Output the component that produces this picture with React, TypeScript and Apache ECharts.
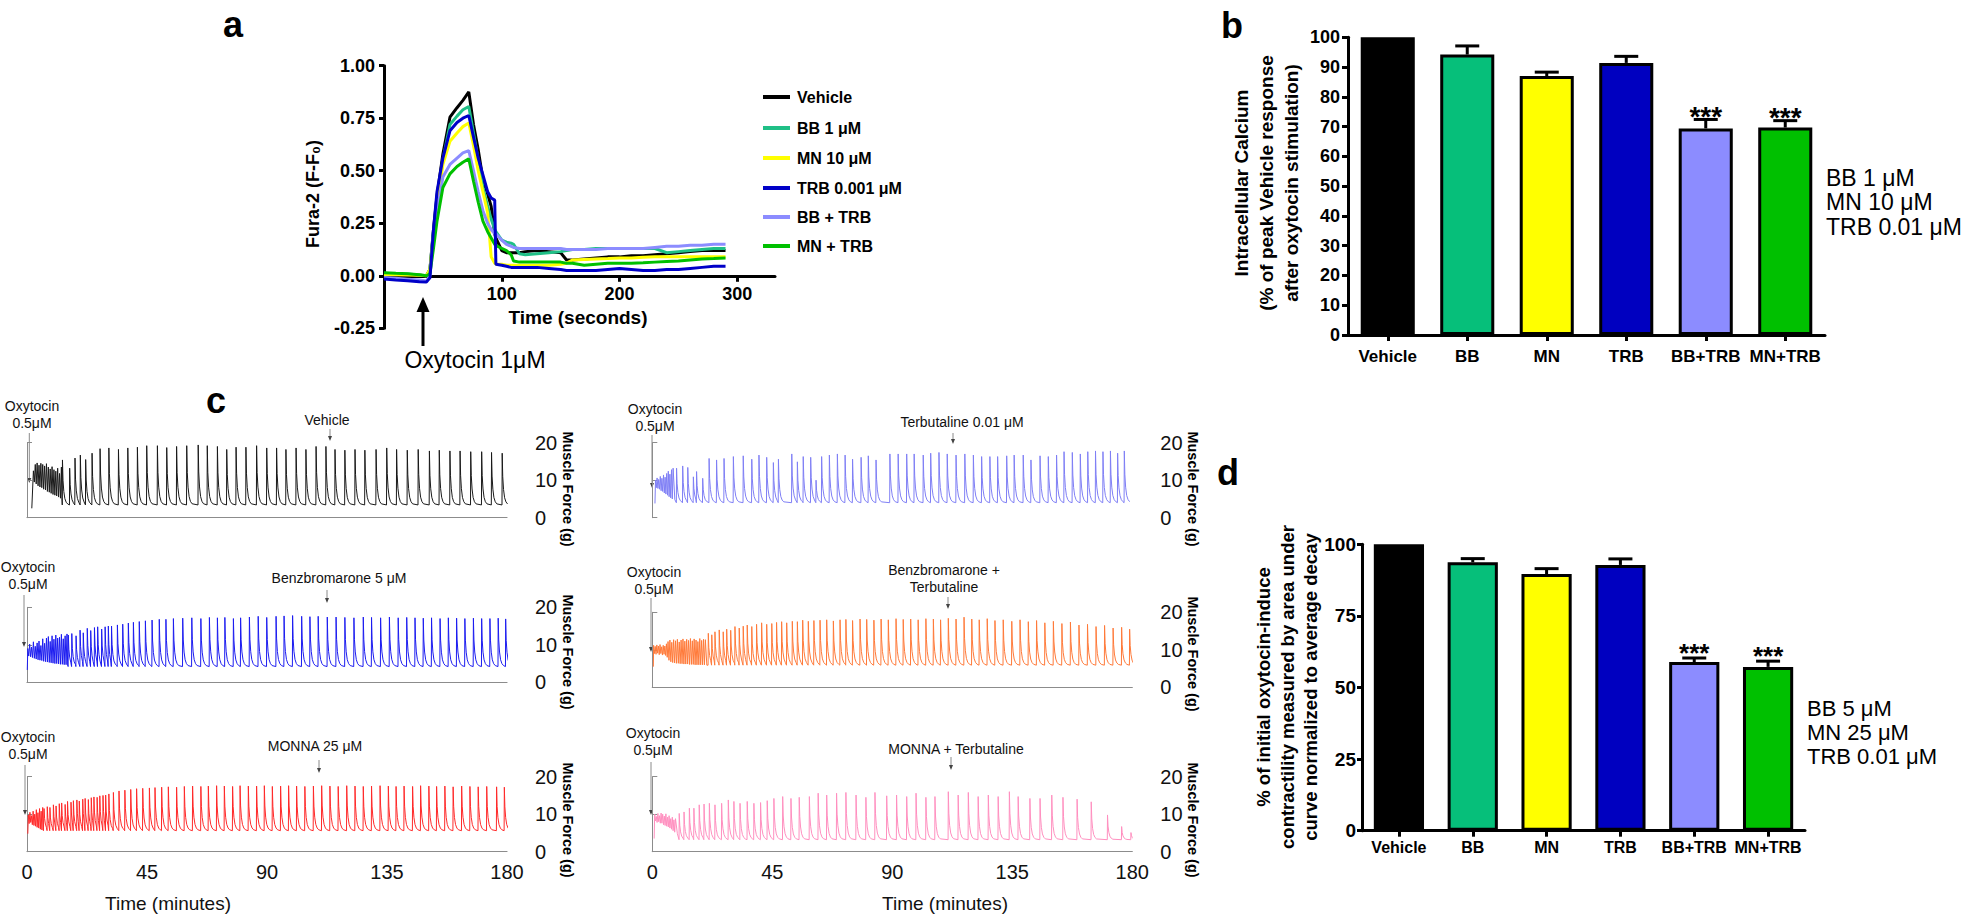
import React, { useEffect, useRef } from "react";
import * as echarts from "echarts";

const FONT = "'Liberation Sans', Arial, Helvetica, sans-serif";

// ---------------- Panel a : Fura-2 traces ----------------
const timeSec = [0, 10, 20, 30, 36, 39, 42, 45, 50, 56, 62, 67, 72, 76, 80, 84, 88, 91, 94, 95, 100, 104, 108, 110, 115, 120, 130, 140, 150, 155, 160, 170, 180, 190, 200, 210, 220, 230, 240, 250, 260, 270, 280, 290];
const furaVehicle = [0.008, 0.006, 0.004, 0.002, 0, 0.03, 0.22, 0.38, 0.58, 0.755, 0.8, 0.835, 0.875, 0.72, 0.6, 0.46, 0.39, 0.33, 0.2, 0.18, 0.12, 0.11, 0.11, 0.11, 0.11, 0.115, 0.12, 0.115, 0.11, 0.075, 0.075, 0.08, 0.085, 0.09, 0.09, 0.095, 0.095, 0.1, 0.105, 0.11, 0.115, 0.12, 0.12, 0.12];
const furaBB = [0.012, 0.01, 0.008, 0.004, 0, 0.03, 0.21, 0.36, 0.55, 0.72, 0.76, 0.79, 0.806, 0.68, 0.55, 0.42, 0.33, 0.27, 0.22, 0.21, 0.17, 0.16, 0.155, 0.15, 0.105, 0.1, 0.105, 0.11, 0.115, 0.12, 0.125, 0.125, 0.13, 0.13, 0.13, 0.13, 0.13, 0.13, 0.11, 0.115, 0.12, 0.125, 0.13, 0.13];
const furaMN = [0.006, 0.005, 0.004, 0.003, 0, 0.03, 0.19, 0.33, 0.53, 0.64, 0.68, 0.71, 0.727, 0.62, 0.5, 0.4, 0.3, 0.09, 0.06, 0.055, 0.055, 0.05, 0.05, 0.05, 0.05, 0.05, 0.05, 0.05, 0.055, 0.06, 0.075, 0.078, 0.08, 0.082, 0.085, 0.085, 0.088, 0.09, 0.09, 0.09, 0.09, 0.09, 0.09, 0.09];
const furaTRB = [-0.015, -0.02, -0.024, -0.028, -0.03, -0.01, 0.22, 0.4, 0.56, 0.69, 0.73, 0.75, 0.763, 0.66, 0.56, 0.48, 0.4, 0.37, 0.36, 0.055, 0.05, 0.045, 0.04, 0.04, 0.04, 0.04, 0.04, 0.035, 0.03, 0.025, 0.025, 0.025, 0.025, 0.03, 0.035, 0.03, 0.025, 0.025, 0.03, 0.03, 0.035, 0.04, 0.045, 0.045];
const furaBBTRB = [-0.008, -0.012, -0.016, -0.02, -0.025, 0, 0.17, 0.3, 0.47, 0.53, 0.56, 0.585, 0.596, 0.5, 0.4, 0.31, 0.25, 0.22, 0.2, 0.2, 0.17, 0.15, 0.14, 0.135, 0.13, 0.13, 0.13, 0.13, 0.13, 0.125, 0.125, 0.125, 0.125, 0.13, 0.13, 0.13, 0.13, 0.135, 0.14, 0.14, 0.145, 0.145, 0.15, 0.15];
const furaMNTRB = [0.015, 0.012, 0.01, 0.005, 0, 0.01, 0.13, 0.26, 0.42, 0.485, 0.52, 0.54, 0.557, 0.45, 0.35, 0.26, 0.21, 0.18, 0.15, 0.145, 0.13, 0.12, 0.1, 0.07, 0.065, 0.065, 0.065, 0.065, 0.065, 0.06, 0.06, 0.05, 0.055, 0.06, 0.06, 0.06, 0.062, 0.065, 0.068, 0.07, 0.075, 0.08, 0.082, 0.085];
const legendA = ["Vehicle", "BB 1 μM", "MN 10 μM", "TRB 0.001 μM", "BB + TRB", "MN + TRB"];
const colorsA = ["#000000", "#1fbf86", "#ffff00", "#0000c8", "#8c8cff", "#00c000"];
const secTicks = [100, 200, 300];

// ---------------- Panels b / d : bars ----------------
const groups = ["Vehicle", "BB", "MN", "TRB", "BB+TRB", "MN+TRB"];
const barColors = ["#000000", "#06bf7a", "#ffff00", "#0000c0", "#8c8cff", "#00c000"];
const calciumMean = [100, 94.2, 87.0, 91.4, 69.4, 69.7];
const calciumErrTop = [100, 97.1, 88.3, 93.6, 72.4, 72.0];
const aucMean = [100, 93.7, 89.6, 92.8, 58.9, 57.2];
const aucErrTop = [100, 95.0, 91.5, 94.9, 60.3, 59.2];
const significance = ["", "", "", "", "***", "***"];

// ---------------- Panel c : muscle force traces ----------------
const timeTicks = [0, 45, 90, 135, 180];
// Vehicle
const vehStart = [1.8, 2.5];
const vehBurstT = [2.4, 3.1, 3.8, 4.5, 5.2, 5.9, 6.6, 7.3, 8.0, 8.7, 9.4, 10.1, 10.8, 11.5, 12.2, 12.9];
const vehBurstPeak = [12.5, 14.2, 14.6, 14.0, 14.5, 14.2, 13.8, 14.4, 13.5, 13.0, 13.6, 12.8, 12.4, 13.2, 11.8, 13.5];
const vehBurstTrough = [9.5, 9.0, 8.5, 8.2, 8.0, 7.6, 7.4, 7.0, 6.8, 6.5, 6.2, 6.0, 5.8, 5.5, 5.2, 5.0];
const vehSpikeT = [13.3, 16.0, 18.0, 20.0, 22.0, 24.4, 27.4, 30.7, 34.3, 37.8, 41.4, 44.9, 48.9, 52.4, 56.1, 59.9, 64.2, 67.6, 71.4, 74.9, 78.4, 82.1, 86.1, 89.9, 93.6, 97.1, 100.9, 104.6, 108.4, 112.1, 115.5, 119.2, 123.0, 126.7, 130.9, 134.9, 138.6, 142.6, 146.7, 150.9, 154.6, 158.6, 162.4, 166.4, 170.5, 174.2, 178.2];
const vehSpikePeak = [15.4, 13.2, 15.9, 16.7, 15.5, 17.2, 18.4, 18.6, 18.2, 18.6, 18.8, 19.2, 19.2, 18.7, 19.0, 19.2, 19.4, 19.2, 19.0, 18.2, 18.8, 18.8, 19.2, 18.6, 18.6, 18.2, 18.6, 18.2, 19.0, 19.0, 18.2, 18.0, 18.2, 18.0, 18.2, 18.6, 18.2, 18.0, 18.2, 17.8, 18.0, 17.8, 17.8, 17.6, 17.6, 17.4, 17.2];
const vehBase = 3.4;
// Benzbromarone 5 μM
const bbStart = [0.1, 3.3];
const bbBurstT = [0.3, 1.0, 1.7, 2.4, 3.1, 3.8, 4.5, 5.2, 5.9, 6.6, 7.3, 8.0, 8.7, 9.4, 10.1, 10.8, 11.5, 12.2, 12.9, 13.6, 14.3, 15.0];
const bbBurstPeak = [9.0, 10.2, 9.4, 10.8, 9.6, 10.5, 11.0, 9.8, 11.6, 10.4, 11.8, 12.2, 10.9, 12.4, 11.5, 12.6, 11.8, 12.0, 12.8, 11.6, 12.4, 12.9];
const bbBurstTrough = [7.0, 6.8, 6.6, 6.4, 6.2, 6.0, 5.9, 5.8, 5.6, 5.5, 5.4, 5.3, 5.2, 5.1, 5.0, 5.0, 4.9, 4.8, 4.8, 4.7, 4.7, 4.6];
const bbSpikeT = [15.5, 16.8, 18.4, 19.9, 21.1, 22.6, 23.9, 25.3, 26.5, 28.0, 29.3, 30.5, 31.7, 33.9, 35.9, 38.0, 39.9, 42.1, 44.4, 46.9, 49.6, 52.1, 54.9, 58.4, 61.8, 65.2, 68.4, 71.4, 74.2, 77.4, 80.1, 83.4, 86.7, 89.9, 93.4, 96.4, 99.6, 103.0, 106.1, 109.2, 112.6, 115.9, 119.2, 122.6, 126.1, 129.2, 132.6, 135.9, 139.2, 142.4, 145.5, 148.6, 151.7, 154.9, 158.0, 161.1, 164.2, 167.4, 170.5, 173.6, 176.7, 179.5];
const bbSpikePeak = [12.6, 13.0, 12.4, 13.9, 13.2, 14.4, 13.8, 14.6, 14.8, 14.2, 14.8, 15.0, 15.0, 15.3, 15.5, 15.8, 16.0, 16.2, 16.4, 16.6, 16.8, 16.8, 17.0, 17.1, 17.2, 17.0, 17.3, 17.2, 17.3, 17.0, 17.2, 17.4, 17.6, 17.3, 17.6, 17.7, 17.8, 17.6, 17.5, 17.6, 17.4, 17.4, 17.3, 17.2, 17.4, 17.3, 17.2, 17.4, 17.2, 17.3, 17.2, 17.1, 17.2, 17.0, 17.2, 17.1, 17.0, 17.1, 17.0, 17.0, 17.1, 16.9];
const bbBase = 4.2;
// MONNA 25 μM
const mnStart = [0.3, 4.8];
const mnBurstT = [0.5, 1.1, 1.7, 2.3, 2.9, 3.5, 4.1, 4.7, 5.3, 5.9];
const mnBurstPeak = [9.8, 10.5, 9.6, 10.8, 10.0, 11.2, 10.4, 11.5, 10.8, 11.8];
const mnBurstTrough = [7.5, 7.8, 7.2, 7.0, 6.8, 6.5, 6.3, 6.0, 5.8, 5.6];
const mnSpikeT = [6.4, 7.6, 8.6, 9.9, 10.9, 12.1, 13.0, 14.3, 15.2, 16.5, 17.4, 18.7, 19.6, 20.9, 21.8, 23.0, 24.1, 25.1, 26.3, 27.3, 28.5, 29.5, 30.7, 32.4, 34.5, 36.7, 38.9, 41.1, 43.4, 45.9, 48.0, 50.5, 53.0, 56.1, 59.0, 62.1, 65.2, 68.0, 71.1, 74.0, 77.1, 79.9, 83.0, 86.1, 89.0, 92.0, 95.1, 98.1, 101.1, 104.2, 107.4, 110.5, 113.6, 116.7, 119.9, 123.0, 126.1, 129.2, 132.4, 135.5, 138.4, 141.4, 144.6, 147.6, 150.7, 153.6, 156.7, 159.8, 163.0, 166.1, 169.2, 172.4, 176.1, 179.0];
const mnSpikePeak = [11.5, 12.0, 11.8, 12.5, 12.2, 12.8, 13.0, 12.6, 13.4, 13.2, 13.6, 13.8, 13.5, 14.0, 14.2, 13.9, 14.4, 14.6, 14.5, 14.9, 15.0, 15.1, 15.4, 15.8, 16.2, 16.4, 16.6, 16.8, 16.9, 17.0, 17.1, 17.2, 17.3, 17.2, 17.4, 17.5, 17.4, 17.5, 17.6, 17.5, 17.4, 17.6, 17.5, 17.5, 17.6, 17.4, 17.5, 17.6, 17.5, 17.4, 17.5, 17.6, 17.5, 17.4, 17.6, 17.5, 17.4, 17.5, 17.6, 17.5, 17.4, 17.5, 17.4, 17.6, 17.5, 17.4, 17.5, 17.3, 17.5, 17.4, 17.3, 17.4, 17.3, 17.2];
const mnBase = 5.6;
// Terbutaline 0.01 μM
const trStart = [1.0, 3.8];
const trBurstT = [1.2, 1.8, 2.4, 3.0, 3.6, 4.2, 4.8, 5.4, 6.0, 6.6, 7.2, 7.8];
const trBurstPeak = [10.0, 10.6, 10.2, 11.0, 10.5, 11.4, 10.8, 11.8, 12.4, 11.6, 12.8, 13.2];
const trBurstTrough = [8.0, 7.8, 7.6, 7.2, 7.0, 6.6, 6.3, 6.0, 5.6, 5.3, 5.0, 4.8];
const trSpikeT = [9.1, 11.4, 13.3, 15.4, 16.6, 18.9, 21.3, 24.1, 26.9, 30.4, 34.1, 37.3, 40.0, 42.9, 45.4, 47.3, 52.3, 54.4, 56.6, 59.4, 61.4, 63.5, 66.4, 69.4, 72.3, 75.1, 78.3, 81.0, 83.9, 89.1, 92.2, 95.4, 98.2, 101.6, 104.4, 107.5, 110.6, 113.9, 117.2, 120.4, 123.5, 126.6, 129.5, 132.9, 135.7, 139.1, 142.0, 145.4, 148.5, 151.6, 154.4, 157.5, 160.5, 163.3, 166.2, 169.0, 171.8, 174.5, 177.0];
const trSpikePeak = [13.2, 13.8, 13.4, 10.9, 12.3, 10.5, 15.8, 15.4, 15.8, 16.3, 16.5, 15.6, 16.7, 16.1, 14.7, 15.6, 17.0, 14.9, 16.3, 16.1, 10.0, 16.3, 16.7, 17.0, 16.7, 15.6, 16.1, 16.5, 15.4, 17.0, 17.0, 17.0, 17.0, 16.7, 17.2, 17.4, 17.0, 16.7, 17.0, 16.7, 16.3, 16.3, 16.3, 16.5, 16.7, 16.7, 15.4, 16.5, 16.3, 16.7, 17.6, 17.4, 17.0, 17.6, 17.8, 17.6, 17.8, 17.2, 17.8];
const trBase = 4.0;
// Benzbromarone + Terbutaline
const btStart = [0.4, 5.5];
const btBurstT = [0.5, 1.1, 1.7, 2.3, 2.9, 3.5, 4.1, 4.7, 5.3, 5.9, 6.6, 7.3, 8.0, 8.7, 9.4, 10.1, 10.8, 11.5, 12.2, 12.9, 13.6, 14.3, 15.0, 15.7, 16.4, 17.1, 17.8, 18.5, 19.2, 19.9];
const btBurstPeak = [11.2, 10.9, 11.3, 11.0, 11.4, 10.8, 11.2, 11.0, 11.6, 12.2, 12.6, 12.0, 12.7, 12.4, 12.8, 12.1, 12.6, 12.9, 12.3, 12.8, 12.5, 13.0, 12.4, 12.9, 12.6, 12.2, 13.0, 12.5, 12.8, 12.7];
const btBurstTrough = [9.0, 8.8, 9.1, 8.7, 9.0, 8.6, 8.8, 8.5, 8.0, 7.2, 6.8, 6.6, 6.5, 6.4, 6.4, 6.3, 6.3, 6.2, 6.2, 6.2, 6.1, 6.1, 6.1, 6.0, 6.0, 6.0, 6.0, 6.0, 6.0, 5.9];
const btSpikeT = [21.0, 22.3, 23.5, 25.1, 26.6, 27.9, 29.4, 31.0, 32.6, 34.1, 35.6, 37.3, 39.1, 41.0, 42.9, 44.8, 46.6, 48.5, 50.4, 52.5, 54.4, 56.4, 58.5, 60.6, 62.9, 65.4, 67.9, 70.4, 72.6, 75.1, 77.9, 80.4, 83.1, 85.8, 88.5, 91.4, 94.1, 96.9, 99.7, 102.6, 105.4, 108.1, 111.0, 113.9, 116.9, 119.8, 122.6, 125.6, 128.5, 131.6, 134.8, 137.9, 141.0, 144.1, 147.2, 150.4, 153.6, 156.8, 160.0, 163.2, 166.4, 169.6, 172.8, 176.0, 179.0];
const btSpikePeak = [14.4, 14.0, 14.8, 15.3, 14.8, 15.5, 15.2, 16.2, 15.8, 16.3, 16.6, 16.2, 16.8, 17.2, 16.8, 17.0, 17.3, 17.5, 17.2, 17.6, 17.5, 17.9, 17.6, 17.8, 17.9, 18.0, 17.7, 18.0, 18.1, 17.8, 18.2, 18.1, 17.9, 18.2, 18.0, 18.3, 18.1, 18.2, 18.0, 18.3, 18.2, 18.0, 18.4, 18.2, 18.7, 18.2, 18.0, 18.3, 17.8, 18.0, 17.6, 18.0, 17.5, 17.8, 17.2, 17.6, 17.0, 17.4, 16.6, 16.8, 16.2, 16.5, 15.8, 16.0, 15.5];
const btBase = 5.9;
// MONNA + Terbutaline
const mtStart = [0.7, 3.5];
const mtBurstT = [0.9, 1.5, 2.1, 2.7, 3.3, 3.9, 4.5, 5.1, 5.7, 6.3, 6.9, 7.5, 8.1, 8.7];
const mtBurstPeak = [10.0, 9.4, 10.2, 9.6, 10.3, 10.0, 9.5, 10.1, 9.2, 9.6, 8.8, 9.2, 8.5, 8.8];
const mtBurstTrough = [8.2, 7.8, 8.0, 7.6, 7.6, 7.2, 7.0, 6.8, 6.6, 6.3, 6.0, 5.6, 5.2, 4.8];
const mtSpikeT = [10.1, 11.9, 13.9, 15.6, 17.6, 19.4, 21.4, 23.5, 26.0, 28.5, 30.6, 32.9, 35.6, 38.1, 40.6, 43.1, 45.6, 48.9, 52.0, 55.1, 58.9, 62.2, 65.4, 69.1, 72.6, 76.4, 80.1, 83.5, 87.9, 91.6, 95.4, 98.9, 102.6, 106.0, 111.0, 114.7, 118.5, 122.2, 126.0, 129.7, 133.9, 137.2, 141.6, 145.4, 149.8, 154.0, 159.3, 164.6, 170.7, 176.0, 179.5];
const mtSpikePeak = [10.2, 10.6, 11.6, 11.6, 12.5, 12.7, 12.9, 12.5, 12.9, 13.8, 13.4, 12.9, 13.4, 12.9, 13.1, 13.6, 14.2, 14.7, 14.2, 14.5, 14.7, 15.6, 15.1, 15.6, 15.8, 15.1, 14.5, 15.8, 14.9, 15.1, 14.7, 15.6, 14.5, 14.7, 16.0, 15.1, 15.8, 14.7, 15.1, 14.7, 16.0, 14.7, 14.2, 14.2, 15.1, 14.5, 14.0, 13.3, 9.8, 6.7, 5.1];
const mtBase = 3.2;

// spike shape (time after peak in minutes, fraction of amplitude remaining)
const DECAY: number[][] = [[0.2, 0.55], [0.5, 0.3], [0.9, 0.14], [1.4, 0.06], [2.0, 0.02]];

function buildTrace(start: number[], bT: number[], bP: number[], bTr: number[], sT: number[], sP: number[], base: number) {
  const pts: number[][] = [[start[0], start[1]]];
  const nb = Math.min(bT.length, bP.length, bTr.length);
  for (let i = 0; i < nb; i++) {
    pts.push([bT[i], bP[i]]);
    const next = i + 1 < nb ? bT[i + 1] : sT[0];
    pts.push([(bT[i] + next) / 2, bTr[i]]);
  }
  const ns = Math.min(sT.length, sP.length);
  for (let i = 0; i < ns; i++) {
    const t = sT[i], p = sP[i];
    const next = i + 1 < ns ? sT[i + 1] : 1e9;
    pts.push([t - 0.08, base]);
    pts.push([t, p]);
    for (const [dt, f] of DECAY) if (t + dt < next - 0.15) pts.push([t + dt, base + (p - base) * f]);
  }
  return pts;
}

function zip(xs: number[], ys: number[]) {
  return xs.map((x, i) => [x, ys[i]]);
}

const txtStyle = (extra: any) => ({ fill: "#000", fontFamily: FONT, align: "center", verticalAlign: "middle", ...extra });

function text(x: number, y: number, t: string, style: any, rotation = 0) {
  return { type: "text", x, y, rotation, silent: true, style: txtStyle({ text: t, ...style }) };
}

function thinArrow(x: number, y1: number, y2: number) {
  return [
    { type: "line", silent: true, shape: { x1: x, y1, x2: x, y2: y2 - 2 }, style: { stroke: "#8a8a8a", lineWidth: 1 } },
    { type: "polygon", silent: true, shape: { points: [[x - 2, y2 - 5], [x + 2, y2 - 5], [x, y2]] }, style: { fill: "#444" } },
  ];
}

function buildOption() {
  const A_TOP = 65.7, A_H = 262.6, A_MIN = -0.25, A_MAX = 1;
  const zeroOffset = -(A_H * (0 - A_MIN)) / (A_MAX - A_MIN);

  const grids: any[] = [
    { left: 384, top: A_TOP, width: 391, height: A_H },
    { left: 1348, top: 37.3, width: 477, height: 297.7 },
    { left: 1362, top: 544.3, width: 443, height: 286.4 },
    { left: 27, top: 442.7, width: 480, height: 75 },
    { left: 27, top: 607.3, width: 480, height: 75 },
    { left: 27, top: 776.7, width: 480, height: 75 },
    { left: 652.3, top: 442.7, width: 480, height: 75 },
    { left: 652.3, top: 612.3, width: 480, height: 75 },
    { left: 652.3, top: 776.7, width: 480, height: 75 },
  ].map((g) => ({ ...g, outerBoundsMode: "none", containLabel: false }));

  const blackLine = { show: true, lineStyle: { color: "#000", width: 3 } };
  const boldLabel = (size: number, margin: number) => ({ color: "#000", fontFamily: FONT, fontWeight: "bold", fontSize: size, margin });

  const xAxis: any[] = [
    {
      gridIndex: 0, type: "value", min: 0, max: 332, position: "bottom", offset: zeroOffset,
      axisLine: { show: true, onZero: false, lineStyle: { color: "#000", width: 3 } },
      axisTick: { show: true, length: 6, lineStyle: { color: "#000", width: 3 }, customValues: secTicks },
      axisLabel: { ...boldLabel(18, 9), customValues: secTicks },
      splitLine: { show: false },
    },
    {
      gridIndex: 1, type: "category", data: groups,
      axisLine: blackLine,
      axisTick: { show: true, alignWithLabel: true, length: 6, lineStyle: { color: "#000", width: 3 } },
      axisLabel: { ...boldLabel(17, 13), interval: 0 },
    },
    {
      gridIndex: 2, type: "category", data: groups,
      axisLine: blackLine,
      axisTick: { show: true, alignWithLabel: true, length: 6, lineStyle: { color: "#000", width: 3 } },
      axisLabel: { ...boldLabel(16, 9), interval: 0 },
    },
  ];
  const yAxis: any[] = [
    {
      gridIndex: 0, type: "value", min: A_MIN, max: A_MAX, interval: 0.25,
      axisLine: blackLine,
      axisTick: { show: true, length: 5, lineStyle: { color: "#000", width: 3 } },
      axisLabel: { ...boldLabel(18, 9), formatter: (v: number) => v.toFixed(2) },
      splitLine: { show: false },
    },
    {
      gridIndex: 1, type: "value", min: 0, max: 100, interval: 10,
      axisLine: blackLine,
      axisTick: { show: true, length: 6, lineStyle: { color: "#000", width: 3 } },
      axisLabel: boldLabel(18, 8),
      splitLine: { show: false },
    },
    {
      gridIndex: 2, type: "value", min: 0, max: 100, interval: 25,
      axisLine: blackLine,
      axisTick: { show: true, length: 5, lineStyle: { color: "#000", width: 3 } },
      axisLabel: boldLabel(19, 6),
      splitLine: { show: false },
    },
  ];

  const traceRows = [
    { grid: 3, line: true, labels: false },
    { grid: 4, line: true, labels: false },
    { grid: 5, line: true, labels: true },
    { grid: 6, line: false, labels: false },
    { grid: 7, line: true, labels: false },
    { grid: 8, line: true, labels: true },
  ];
  traceRows.forEach((r) => {
    xAxis.push({
      gridIndex: r.grid, type: "value", min: 0, max: 180, interval: 45,
      axisLine: { show: r.line, onZero: false, lineStyle: { color: "#8c8c8c", width: 1.2 } },
      axisTick: { show: false },
      axisLabel: { show: r.labels, color: "#111", fontFamily: FONT, fontSize: 20, margin: 10, customValues: timeTicks },
      splitLine: { show: false },
    });
    yAxis.push({
      gridIndex: r.grid, type: "value", min: 0, max: 20, interval: 10, position: "right", offset: 17,
      axisLine: { show: true, lineStyle: { color: "#8c8c8c", width: 1 } },
      axisTick: { show: true, length: 5, lineStyle: { color: "#8c8c8c", width: 1 } },
      axisLabel: { color: "#111", fontFamily: FONT, fontSize: 20, margin: 11 },
      splitLine: { show: false },
    });
  });

  const series: any[] = [];
  const furaSets = [furaVehicle, furaBB, furaMN, furaTRB, furaBBTRB, furaMNTRB];
  [0, 1, 2, 4, 5, 3].forEach((k) => {
    series.push({
      type: "line", name: legendA[k], xAxisIndex: 0, yAxisIndex: 0,
      data: zip(timeSec, furaSets[k]), showSymbol: false, symbol: "none",
      lineStyle: { color: colorsA[k], width: 3 }, silent: true, z: 3,
    });
  });

  const barPanels = [
    { axis: 1, mean: calciumMean, err: calciumErrTop, starSize: 28, starOff: 3 },
    { axis: 2, mean: aucMean, err: aucErrTop, starSize: 26, starOff: 5 },
  ];
  barPanels.forEach((p) => {
    series.push({
      type: "bar", xAxisIndex: p.axis, yAxisIndex: p.axis, barWidth: "68%",
      data: p.mean.map((v, i) => ({ value: v, itemStyle: { color: barColors[i], borderColor: "#000", borderWidth: 3 } })),
      silent: true, z: 2,
    });
    series.push({
      type: "custom", xAxisIndex: p.axis, yAxisIndex: p.axis, z: 5, silent: true,
      data: p.mean.map((v, i) => [i, v, p.err[i]]),
      encode: { x: 0, y: [1, 2] },
      renderItem: (params: any, api: any) => {
        const i = api.value(0);
        const top = api.coord([i, api.value(2)]);
        const bot = api.coord([i, api.value(1)]);
        const children: any[] = [];
        if (api.value(2) > api.value(1)) {
          children.push({ type: "line", shape: { x1: top[0], y1: bot[1], x2: top[0], y2: top[1] }, style: { stroke: "#000", lineWidth: 3 } });
          children.push({ type: "line", shape: { x1: top[0] - 12, y1: top[1], x2: top[0] + 12, y2: top[1] }, style: { stroke: "#000", lineWidth: 3 } });
        }
        const s = significance[params.dataIndex];
        if (s) {
          children.push({
            type: "text", x: top[0], y: top[1] - p.starOff,
            style: { text: s, fill: "#000", fontFamily: FONT, fontWeight: "bold", fontSize: p.starSize, align: "center", verticalAlign: "middle" },
          });
        }
        return { type: "group", children };
      },
    });
  });

  const traces = [
    { g: 3, c: "#1a1a1a", d: buildTrace(vehStart, vehBurstT, vehBurstPeak, vehBurstTrough, vehSpikeT, vehSpikePeak, vehBase) },
    { g: 4, c: "#1c1cf0", d: buildTrace(bbStart, bbBurstT, bbBurstPeak, bbBurstTrough, bbSpikeT, bbSpikePeak, bbBase) },
    { g: 5, c: "#ff2a2a", d: buildTrace(mnStart, mnBurstT, mnBurstPeak, mnBurstTrough, mnSpikeT, mnSpikePeak, mnBase) },
    { g: 6, c: "#7f7ff5", d: buildTrace(trStart, trBurstT, trBurstPeak, trBurstTrough, trSpikeT, trSpikePeak, trBase) },
    { g: 7, c: "#ff7a3a", d: buildTrace(btStart, btBurstT, btBurstPeak, btBurstTrough, btSpikeT, btSpikePeak, btBase) },
    { g: 8, c: "#ff8fbf", d: buildTrace(mtStart, mtBurstT, mtBurstPeak, mtBurstTrough, mtSpikeT, mtSpikePeak, mtBase) },
  ];
  traces.forEach((t) => {
    series.push({
      type: "line", xAxisIndex: t.g, yAxisIndex: t.g, data: t.d, showSymbol: false, symbol: "none",
      lineStyle: { color: t.c, width: 1 }, silent: true, clip: true,
    });
  });

  const g: any[] = [];
  const letter = { fontSize: 36, fontWeight: "bold" };
  g.push(text(233, 24, "a", letter));
  g.push(text(1232, 25, "b", letter));
  g.push(text(216, 400, "c", letter));
  g.push(text(1228, 472, "d", letter));

  g.push(text(313, 194, "Fura-2 (F-F₀)", { fontSize: 18, fontWeight: "bold" }, Math.PI / 2));
  g.push(text(578, 317, "Time (seconds)", { fontSize: 19, fontWeight: "bold" }));
  const legY = [97, 128, 158, 188, 217, 246];
  legendA.forEach((name, k) => {
    g.push({ type: "line", silent: true, shape: { x1: 763, y1: legY[k], x2: 790, y2: legY[k] }, style: { stroke: colorsA[k], lineWidth: 4 } });
    g.push(text(797, legY[k], name, { fontSize: 16, fontWeight: "bold", align: "left" }));
  });
  g.push({ type: "polygon", silent: true, shape: { points: [[423, 297], [416.5, 312], [429.5, 312]] }, style: { fill: "#000" } });
  g.push({ type: "line", silent: true, shape: { x1: 423, y1: 308, x2: 423, y2: 346 }, style: { stroke: "#000", lineWidth: 3 } });
  g.push(text(475, 360, "Oxytocin 1μM", { fontSize: 23 }));

  g.push(text(1266.7, 183, "Intracellular Calcium\n(% of peak Vehicle response\nafter oxytocin stimulation)", { fontSize: 19, fontWeight: "bold", lineHeight: 25 }, Math.PI / 2));
  g.push(text(1826, 202, "BB 1 μM\nMN 10 μM\nTRB 0.01 μM", { fontSize: 23, align: "left", lineHeight: 24.5 }));

  g.push(text(1287, 687, "% of initial oxytocin-induce\ncontractility measured by area under\ncurve normalized to average decay", { fontSize: 18.5, fontWeight: "bold", lineHeight: 23.5 }, Math.PI / 2));
  g.push(text(1807, 732, "BB 5 μM\nMN 25 μM\nTRB 0.01 μM", { fontSize: 22, align: "left", lineHeight: 24 }));

  const small = { fontSize: 14, fill: "#111" };
  const oxy = [
    [32, 406, 29.3, 433, 483],
    [28, 567, 24, 595, 647],
    [28, 737, 25, 765, 815],
    [655, 409, 652, 435, 488],
    [654, 572, 651, 598, 652],
    [653, 733, 651, 762, 815],
  ];
  oxy.forEach(([tx, ty, ax, a1, a2]) => {
    g.push(text(tx, ty, "Oxytocin", small));
    g.push(text(tx, ty + 17, "0.5μM", small));
    thinArrow(ax, a1, a2).forEach((e) => g.push(e));
  });
  const treat: any[] = [
    ["Vehicle", 327, 420, 330, 429, 441],
    ["Benzbromarone 5 μM", 339, 578, 327, 590, 603],
    ["MONNA 25 μM", 315, 746, 319, 760, 773],
    ["Terbutaline 0.01 μM", 962, 422, 953, 433, 444],
    ["Benzbromarone +\nTerbutaline", 944, 578.5, 948, 597, 609],
    ["MONNA + Terbutaline", 956, 749, 951, 757, 770],
  ];
  treat.forEach(([label, tx, ty, ax, a1, a2]) => {
    g.push(text(tx, ty, label, { ...small, lineHeight: 17 }));
    thinArrow(ax, a1, a2).forEach((e) => g.push(e));
  });
  [[568, 489], [568, 652], [568, 820], [1193, 489], [1193, 654], [1193, 820]].forEach(([x, y]) => {
    g.push(text(x, y, "Muscle Force (g)", { fontSize: 14.5, fontWeight: "bold" }, -Math.PI / 2));
  });
  g.push(text(168, 903, "Time (minutes)", { fontSize: 19, fill: "#111" }));
  g.push(text(945, 903, "Time (minutes)", { fontSize: 19, fill: "#111" }));

  return {
    animation: false,
    backgroundColor: "#ffffff",
    textStyle: { fontFamily: FONT },
    grid: grids,
    xAxis,
    yAxis,
    series,
    graphic: { elements: g },
  };
}

export default function App() {
  const ref = useRef<HTMLDivElement>(null);
  useEffect(() => {
    document.body.style.margin = "0";
    const chart = echarts.init(ref.current as HTMLDivElement, null, { renderer: "svg" });
    chart.setOption(buildOption() as any);
    return () => chart.dispose();
  }, []);
  return <div ref={ref} style={{ width: 1961, height: 916, background: "#fff" }} />;
}
